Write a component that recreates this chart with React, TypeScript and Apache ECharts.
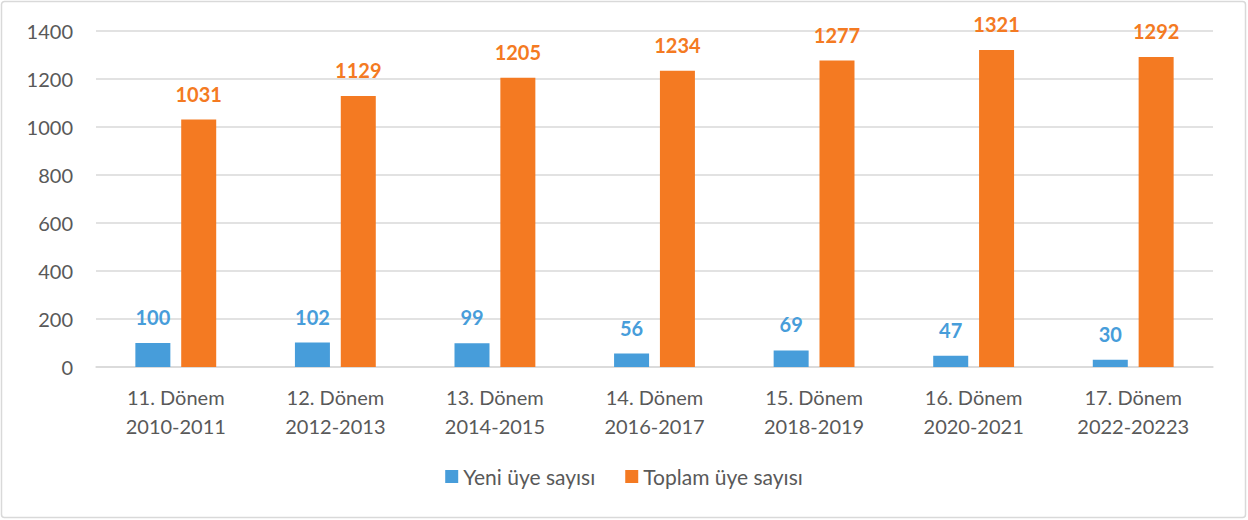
import React, { useEffect, useRef } from "react";
import * as echarts from "echarts";

const categories = [
  "11. Dönem\n2010-2011",
  "12. Dönem\n2012-2013",
  "13. Dönem\n2014-2015",
  "14. Dönem\n2016-2017",
  "15. Dönem\n2018-2019",
  "16. Dönem\n2020-2021",
  "17. Dönem\n2022-20223",
];
const yeniUye = [100, 102, 99, 56, 69, 47, 30];
const toplamUye = [1031, 1129, 1205, 1234, 1277, 1321, 1292];
const seriesNames = ["Yeni üye sayısı", "Toplam üye sayısı"];

const FONT = "Lato, 'Open Sans', sans-serif";
const BLUE = "#479DDA";
const ORANGE = "#F47A22";

export default function App() {
  const ref = useRef<HTMLDivElement>(null);
  useEffect(() => {
    document.body.style.margin = "0";
    const chart = echarts.init(ref.current!, null, { renderer: "svg" });
    chart.setOption({
      animation: false,
      textStyle: { fontFamily: FONT },
      graphic: [
        {
          type: "rect",
          shape: { x: 1.5, y: 1.5, width: 1244, height: 516, r: 3 },
          style: { fill: "none", stroke: "#d9d9d9", lineWidth: 1.5 },
          silent: true,
        },
      ],
      grid: { left: 96, right: 35, top: 31, bottom: 153 },
      legend: {
        data: seriesNames,
        bottom: 28,
        left: "center",
        itemWidth: 13,
        itemHeight: 13,
        itemGap: 30,
        icon: "rect",
        textStyle: { fontSize: 21, color: "#595959", fontFamily: FONT },
      },
      xAxis: {
        type: "category",
        data: categories,
        axisLine: { lineStyle: { color: "#d9d9d9", width: 1.5 } },
        axisTick: { show: false },
        axisLabel: {
          fontSize: 20,
          color: "#595959",
          lineHeight: 29,
          margin: 15,
          fontFamily: FONT,
        },
      },
      yAxis: {
        type: "value",
        min: 0,
        max: 1400,
        interval: 200,
        axisLine: { show: false },
        axisTick: { show: false },
        splitLine: { lineStyle: { color: "#d9d9d9", width: 1.5 } },
        axisLabel: {
          fontSize: 20,
          color: "#595959",
          margin: 23,
          fontFamily: FONT,
          formatter: (v: number) => String(v),
        },
      },
      series: [
        {
          name: seriesNames[0],
          type: "bar",
          data: yeniUye,
          barWidth: 35,
          barGap: "31%",
          itemStyle: { color: BLUE },
          label: {
            show: true,
            position: "top",
            distance: 16,
            color: BLUE,
            fontSize: 20,
            fontWeight: "bold",
            fontFamily: FONT,
          },
        },
        {
          name: seriesNames[1],
          type: "bar",
          data: toplamUye,
          barWidth: 35,
          itemStyle: { color: ORANGE },
          label: {
            show: true,
            position: "top",
            distance: 16,
            color: ORANGE,
            fontSize: 20,
            fontWeight: "bold",
            fontFamily: FONT,
          },
        },
      ],
    });
    return () => chart.dispose();
  }, []);
  return <div ref={ref} style={{ width: 1248, height: 520 }} />;
}
